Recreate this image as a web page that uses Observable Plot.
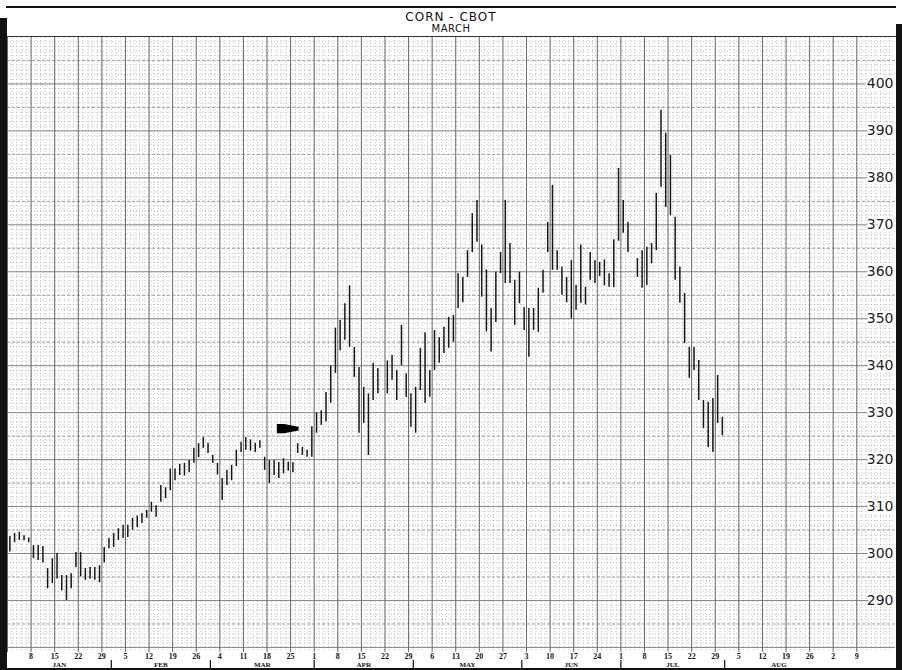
<!DOCTYPE html>
<html><head><meta charset="utf-8">
<script src="https://cdn.jsdelivr.net/npm/d3@7"></script>
<script src="https://cdn.jsdelivr.net/npm/@observablehq/plot@0.6"></script>
<style>
body{margin:0;background:#fff;}
#wrap{position:relative;width:902px;height:670px;background:#fff;overflow:hidden;font-family:"DejaVu Sans",sans-serif;}
.b{position:absolute;background:#111;}
.t{position:absolute;left:0;width:902px;text-align:center;color:#111;white-space:nowrap;}
#t1{top:11px;font-size:12px;line-height:12px;letter-spacing:1px;}
#t2{top:24px;font-size:10px;line-height:10px;letter-spacing:0.5px;}
#chart{position:absolute;left:0;top:36px;}
</style></head><body>
<div id="wrap">
  <div id="chart"></div>
  <div class="t" id="t1">CORN - CBOT</div>
  <div class="t" id="t2">MARCH</div>
  <div class="b" style="left:6px;top:6px;width:890px;height:2px;"></div>
  <div class="b" style="left:6px;top:36px;width:890px;height:1px;background:#333"></div>
  <div class="b" style="left:0;top:18px;width:7px;height:652px;"></div>
  <div class="b" style="left:896px;top:24px;width:6px;height:646px;"></div>
  <div class="b" style="left:0;top:668px;width:902px;height:2px;"></div>
</div>
<script>
// Daily highs / lows (cents per bushel), one slot per trading day, Jan 2 .. Jul 31
const highs = [303.6,304.3,304.5,303.8,303.3, 301.7,301.7,301.5,296.8,298.9, 300.0,295.3,295.3,295.7,300.2,
 300.2,296.8,297.0,297.0,297.4, 301.3,303.2,304.3,305.3,306.0, 306.0,307.5,308.0,308.5,309.2,
 310.9,310.2,314.5,314.0,318.0, 318.0,319.0,319.2,319.8,322.4, 323.4,324.7,323.5,320.9,319.2,
 316.0,317.7,318.8,322.0,323.7, 324.7,324.2,323.5,324.0,320.5, 319.8,319.8,319.4,320.2,319.5,
 319.4,323.4,322.6,322.0,327.0, 330.0,330.4,334.3,340.0,348.0, 349.6,353.2,357.0,343.9,339.6,
 335.4,334.0,340.5,339.4,null, 341.0,342.2,339.0,348.6,338.3, 334.0,335.4,343.7,347.0,339.0,
 347.5,346.0,348.2,350.3,350.7, 359.6,358.8,364.5,372.4,375.2, 365.7,360.4,352.2,359.9,364.1,
 375.2,366.0,358.2,359.9,352.4, 352.2,352.2,356.5,360.3,370.5, 378.4,364.5,361.0,358.8,362.4,
 357.1,365.7,356.7,364.1,362.4, 362.0,362.5,359.6,366.8,382.0, 375.2,370.5,null,362.8,364.5,
 365.2,366.0,376.7,394.4,389.5, 384.8,371.6,361.0,355.4,343.9, 343.9,341.1,332.6,332.2,333.0,
 337.9,329.0];
const lows = [300.3,302.3,302.8,302.7,302.3, 298.9,298.5,298.0,292.5,293.6, 294.6,292.0,290.0,292.5,297.0,
 295.0,294.3,294.5,294.3,293.8, 298.0,301.0,301.3,302.8,303.2, 303.4,305.0,305.5,306.4,307.5,
 308.8,307.7,310.9,311.7,313.4, 315.5,316.6,316.5,317.2,319.2, 320.4,322.4,321.3,319.2,316.7,
 311.3,314.5,315.5,318.5,321.5, 322.0,321.8,321.5,322.4,317.7, 314.9,316.6,316.0,317.0,317.5,
 317.2,321.3,320.9,320.5,320.5, 325.6,327.3,328.0,332.0,338.3, 343.2,345.4,343.9,337.5,325.6,
 327.7,320.9,332.6,334.0,null, 334.0,336.9,332.6,340.0,333.2, 326.9,325.6,334.7,332.0,333.3,
 339.0,340.5,342.6,343.7,345.0, 352.2,353.4,358.8,364.1,366.3, 354.6,347.2,342.9,349.2,359.6,
 357.5,357.5,348.6,353.2,347.5, 341.8,347.5,347.1,355.4,364.1, 360.3,360.3,355.0,353.4,350.0,
 351.8,353.3,352.9,358.2,357.5, 359.0,357.0,356.7,356.6,366.5, 368.2,364.1,null,358.8,356.5,
 357.1,361.7,364.5,378.0,373.7, 372.0,358.2,353.3,344.7,337.3, 339.0,332.6,326.6,322.6,321.5,
 327.7,325.1];

// Week tick labels (day of month of each week start), Jan 1 .. Sep 9
const weekLabels = ["", "8","15","22","29","5","12","19","26","4","11","18","25","1","8","15","22","29",
 "6","13","20","27","3","10","17","24","1","8","15","22","29","5","12","19","26","2","9"];
// Months and their first trading-day slot
const months = ["JAN","FEB","MAR","APR","MAY","JUN","JUL","AUG"];
const monthStarts = [0,22,43,65,86,109,130,152,175];
const priceLabels = [290,300,310,320,330,340,350,360,370,380,390,400];
// marker arrow (slot position, low/high edge)
const arrowX = [57.2, 58.7, 61.8];
const arrowLo = [325.5, 325.5, 326.1];
const arrowHi = [327.5, 327.5, 326.9];

const xMax = 188.2, yMin = 279.35, yMax = 410.1;
const bars = highs.map((h,i)=> h==null ? null : {x: i+0.5, hi: h, lo: lows[i]}).filter(d=>d);
const weeks = weekLabels.map((l,k)=>({x: 5*k, label: l}));
const monthMid = months.map((m,i)=>({x:(monthStarts[i]+monthStarts[i+1])/2, label:m}));
const arrow = arrowX.map((x,i)=>({x, lo: arrowLo[i], hi: arrowHi[i]}));

const chart = Plot.plot({
  width: 902, height: 634,
  marginTop: 0, marginBottom: 20, marginLeft: 7, marginRight: 7,
  x: {domain: [0, xMax], axis: null},
  y: {domain: [yMin, yMax], axis: null},
  style: {background: "transparent", overflow: "visible", fontFamily: "DejaVu Sans"},
  marks: [
    // fine graph-paper grid
    Plot.ruleY(d3.range(280, 410, 1), {stroke: "#8a8a8a", strokeWidth: 0.8, strokeDasharray: "1,2", strokeOpacity: 0.65}),
    Plot.ruleX(d3.range(1, 188, 1), {y1: yMin, y2: yMax, stroke: "#8a8a8a", strokeWidth: 0.8, strokeDasharray: "1,2", strokeOpacity: 0.65}),
    Plot.ruleY(d3.range(285, 410, 10), {stroke: "#999", strokeWidth: 0.9, strokeDasharray: "3,2"}),
    Plot.ruleY(d3.range(280, 410, 10), {stroke: "#888", strokeWidth: 1}),
    Plot.ruleX(weeks, {x: "x", y1: 278.9, y2: yMax, stroke: "#6a6a6a", strokeWidth: 1}),
    // price bars
    Plot.ruleX(bars, {x: "x", y1: "lo", y2: "hi", stroke: "#161616", strokeWidth: 1.5}),
    // marker arrow
    Plot.areaY(arrow, {x: "x", y1: "lo", y2: "hi", fill: "#000", curve: "linear"}),
    // price labels inside the right edge
    Plot.text(priceLabels, {x: xMax, y: d=>d, text: d=>String(d), textAnchor: "end", dx: -2,
      fontSize: 14, fill: "#222", stroke: "white", strokeWidth: 4, paintOrder: "stroke", fontFamily: "DejaVu Sans"}),
    // day labels
    Plot.text(weeks, {x: "x", y: 278.15, text: "label", fontSize: 8, fontWeight: "bold",
      fontFamily: "Liberation Sans Narrow", fill: "#111"}),
    // month separators and labels
    Plot.ruleX(monthStarts.slice(1, 8), {x: d=>d, y1: 277.2, y2: 275.4, stroke: "#111", strokeWidth: 1.2}),
    Plot.text(monthMid, {x: "x", y: 276.3, text: "label", fontSize: 7, fontWeight: "bold",
      fontFamily: "Liberation Sans Narrow", fill: "#111", letterSpacing: 1})
  ]
});
document.getElementById("chart").appendChild(chart);
</script>
</body></html>
